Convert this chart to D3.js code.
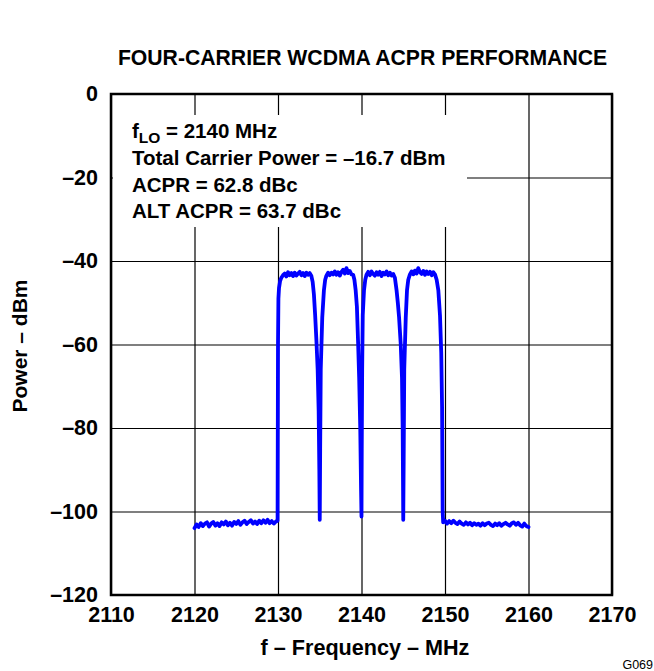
<!DOCTYPE html>
<html>
<head>
<meta charset="utf-8">
<script src="https://cdn.jsdelivr.net/npm/d3@7"></script>
<style>
  html, body { margin: 0; padding: 0; background: #fff; }
  svg { display: block; }
  text { font-family: "Liberation Sans", Arial, Helvetica, sans-serif; font-weight: bold; fill: #000; }
</style>
</head>
<body>
<svg id="chart" width="654" height="671"></svg>
<script>
// ---- data ----
const chartTitle = "FOUR-CARRIER WCDMA ACPR PERFORMANCE";
const xTickValues = [2110, 2120, 2130, 2140, 2150, 2160, 2170];
const yTickValues = [0, -20, -40, -60, -80, -100, -120];
const annotationLines = [
  "Total Carrier Power = \u201316.7 dBm",
  "ACPR = 62.8 dBc",
  "ALT ACPR = 63.7 dBc"
];
const freqMHz = [
  2120.0, 2120.25, 2120.5, 2120.75, 2121.0, 2121.25, 2121.5, 2121.75, 2122.0, 2122.25,
  2122.5, 2122.75, 2123.0, 2123.25, 2123.5, 2123.75, 2124.0, 2124.25, 2124.5, 2124.75,
  2125.0, 2125.25, 2125.5, 2125.75, 2126.0, 2126.25, 2126.5, 2126.75, 2127.0, 2127.25,
  2127.5, 2127.75, 2128.0, 2128.25, 2128.5, 2128.75, 2129.0, 2129.25, 2129.5, 2129.75,
  2129.95,
  2130.0, 2130.05, 2130.12, 2130.25, 2130.4, 2130.6,
  2130.8, 2131.0, 2131.2, 2131.4, 2131.6, 2131.8, 2132.0, 2132.2, 2132.4, 2132.6,
  2132.8, 2133.0, 2133.2, 2133.4, 2133.6, 2133.8, 2134.0,
  2134.15, 2134.3, 2134.45, 2134.6, 2134.75, 2134.87, 2134.95, 2135.0,
  2135.05, 2135.12, 2135.3, 2135.5, 2135.65, 2135.8,
  2136.0, 2136.2, 2136.4, 2136.6, 2136.8, 2137.0, 2137.2, 2137.4, 2137.6, 2137.8,
  2138.0, 2138.2, 2138.4, 2138.6, 2138.8, 2139.0,
  2139.15, 2139.3, 2139.45, 2139.6, 2139.72, 2139.85, 2139.95, 2140.0,
  2140.03, 2140.08, 2140.15, 2140.3, 2140.45, 2140.6,
  2140.8, 2141.0, 2141.2, 2141.4, 2141.6, 2141.8, 2142.0, 2142.2, 2142.4, 2142.6,
  2142.8, 2143.0, 2143.2, 2143.4, 2143.6, 2143.8,
  2144.0, 2144.2, 2144.35, 2144.5, 2144.7, 2144.85, 2144.93, 2144.98, 2145.0,
  2145.05, 2145.12, 2145.3, 2145.45, 2145.6, 2145.8,
  2146.0, 2146.2, 2146.4, 2146.6, 2146.8, 2147.0, 2147.2, 2147.4, 2147.6, 2147.8,
  2148.0, 2148.2, 2148.4, 2148.6, 2148.8,
  2149.0, 2149.2, 2149.4, 2149.55, 2149.65, 2149.72, 2149.78,
  2150.0, 2150.25, 2150.5, 2150.75, 2151.0, 2151.25, 2151.5, 2151.75, 2152.0, 2152.25,
  2152.5, 2152.75, 2153.0, 2153.25, 2153.5, 2153.75, 2154.0, 2154.25, 2154.5, 2154.75,
  2155.0, 2155.25, 2155.5, 2155.75, 2156.0, 2156.25, 2156.5, 2156.75, 2157.0, 2157.25,
  2157.5, 2157.75, 2158.0, 2158.25, 2158.5, 2158.75, 2159.0, 2159.25, 2159.5, 2159.75,
  2160.0
];
const powerDBm = [
  -104.0, -103.1, -103.7, -102.8, -103.5, -102.9, -102.6, -103.6, -102.9, -102.5,
  -103.4, -102.8, -103.5, -102.6, -103.1, -102.4, -103.3, -102.7, -103.4, -102.5,
  -103.0, -102.3, -103.2, -102.6, -102.2, -103.0, -102.5, -102.1, -102.9, -102.4,
  -103.0, -102.2, -102.8, -102.1, -102.7, -102.0, -102.8, -102.3, -102.9, -102.4,
  -102.2,
  -60.0, -49.0, -46.5, -44.8, -44.0, -43.4,
  -43.0, -43.7, -42.7, -43.4, -42.9, -43.6, -42.8, -43.5, -43.0, -42.6,
  -43.4, -42.9, -43.6, -42.8, -43.3, -42.9, -43.6,
  -45.0, -48.0, -53.0, -59.0, -66.0, -76.0, -90.0, -102.0,
  -85.0, -66.0, -53.5, -47.0, -44.5, -43.5,
  -42.8, -43.4, -42.8, -43.2, -42.5, -43.3, -42.7, -43.5, -42.6, -42.1,
  -43.0, -41.7, -42.9, -42.4, -43.2, -43.3,
  -44.5, -47.0, -51.0, -60.0, -68.0, -80.0, -95.0, -101.2,
  -85.0, -66.0, -53.0, -47.0, -44.5, -43.3,
  -42.6, -43.4, -42.5, -43.1, -43.5, -42.7, -43.3, -42.6, -43.6, -42.8,
  -43.2, -42.5, -43.4, -42.8, -43.5, -43.1,
  -44.0, -47.0, -50.0, -53.5, -60.0, -68.0, -80.0, -95.0, -102.0,
  -88.0, -66.0, -53.5, -47.0, -44.5, -43.2,
  -42.5, -43.2, -42.3, -43.0, -41.7, -42.7, -43.1, -42.4, -43.3, -42.5,
  -43.1, -42.6, -43.4, -42.7, -43.2,
  -44.5, -47.0, -53.0, -62.0, -75.0, -100.0, -102.6,
  -102.2, -102.9, -102.3, -102.8, -102.2, -102.7, -103.0, -102.4, -102.9, -103.2,
  -102.6, -103.1, -102.7, -103.3, -102.8, -103.2, -102.9, -103.4, -102.8, -103.3,
  -102.9, -102.7, -103.2, -103.5, -102.9, -103.3, -102.8, -103.4, -103.0, -102.7,
  -103.1, -103.4, -102.8, -102.6, -103.2, -102.7, -103.3, -103.6, -102.9, -103.5,
  -103.7
];

// ---- layout ----
const svg = d3.select("#chart");
const L = 111, R = 612, T = 94, B = 595;
const W = R - L, H = B - T;
const FONT = "'Liberation Sans', Arial, sans-serif";

const x = d3.scaleLinear().domain([2110, 2170]).range([L, R]);
const y = d3.scaleLinear().domain([-120, 0]).range([B, T]);

// title
svg.append("text")
  .attr("x", 362.5).attr("y", 65)
  .attr("text-anchor", "middle")
  .style("font-size", "21.2px")
  .text(chartTitle);

// x axis with gridlines
const gx = svg.append("g")
  .attr("transform", `translate(0,${B})`)
  .call(d3.axisBottom(x).tickValues(xTickValues).tickSize(-H).tickPadding(12)
        .tickFormat(d3.format("d")));
gx.select(".domain").remove();
gx.selectAll("line").attr("stroke", "#000").attr("stroke-width", 1.2);
gx.selectAll("text").style("font-size", "21.5px").style("font-family", FONT).style("font-weight", "bold");

// y axis with gridlines
const gy = svg.append("g")
  .attr("transform", `translate(${L},0)`)
  .call(d3.axisLeft(y).tickValues(yTickValues).tickSize(-W).tickPadding(13)
        .tickFormat(d => d < 0 ? "\u2013" + Math.abs(d) : String(d)));
gy.select(".domain").remove();
gy.selectAll("line").attr("stroke", "#000").attr("stroke-width", 1.2);
gy.selectAll("text").style("font-size", "21.5px").style("font-family", FONT).style("font-weight", "bold");

// white annotation box covering gridlines
svg.append("rect")
  .attr("x", 113).attr("y", 115).attr("width", 354).attr("height", 112)
  .attr("fill", "#fff");

// annotation text
const ann = svg.append("g").style("font-size", "20.5px");
const t0 = ann.append("text").attr("x", 132).attr("y", 138);
t0.append("tspan").text("f");
t0.append("tspan").attr("dy", 5).style("font-size", "15.5px").text("LO");
t0.append("tspan").attr("dy", -5).text(" = 2140 MHz");
const baselines = [165, 192, 218];
annotationLines.forEach((s, i) => {
  ann.append("text").attr("x", 132).attr("y", baselines[i]).text(s);
});

// trace
const pts = freqMHz.map((f, i) => [f, powerDBm[i]]);
svg.append("path")
  .datum(pts)
  .attr("fill", "none")
  .attr("stroke", "#0000ff")
  .attr("stroke-width", 3.8)
  .attr("stroke-linejoin", "round")
  .attr("stroke-linecap", "round")
  .attr("d", d3.line().x(d => x(d[0])).y(d => y(d[1])));

// frame
svg.append("rect")
  .attr("x", L).attr("y", T).attr("width", W).attr("height", H)
  .attr("fill", "none").attr("stroke", "#000").attr("stroke-width", 2.5);

// axis labels
svg.append("text")
  .attr("x", 365).attr("y", 655)
  .attr("text-anchor", "middle")
  .style("font-size", "21.6px")
  .text("f \u2013 Frequency \u2013 MHz");

svg.append("text")
  .attr("transform", "translate(27,346) rotate(-90)")
  .attr("text-anchor", "middle")
  .style("font-size", "21px")
  .text("Power \u2013 dBm");

// figure id
svg.append("text")
  .attr("x", 653).attr("y", 669)
  .attr("text-anchor", "end")
  .style("font-size", "12.5px")
  .style("font-weight", "normal")
  .text("G069");
</script>
</body>
</html>
